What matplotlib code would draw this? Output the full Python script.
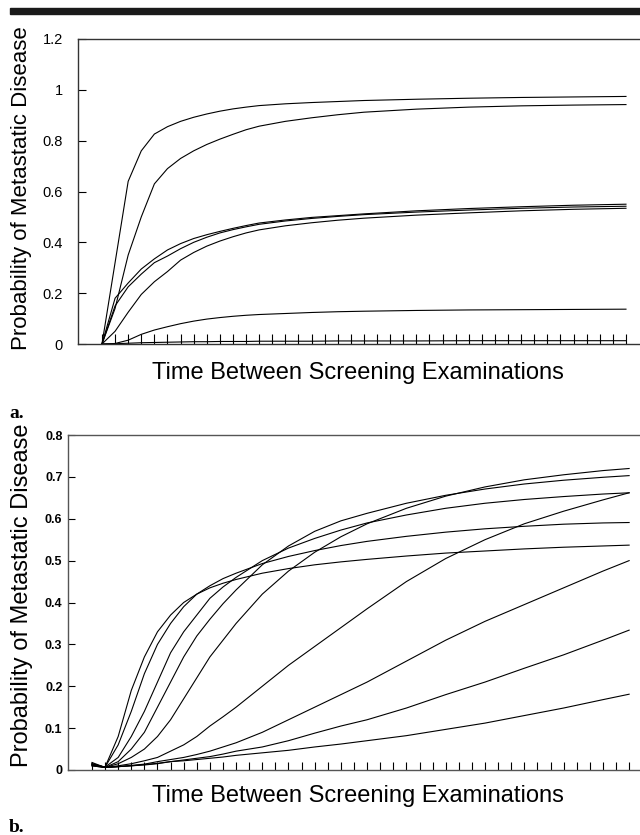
import matplotlib.pyplot as plt
from matplotlib.patches import Rectangle

# panel a: time index and probability curves
xa = [0, 1, 2, 3, 4, 5, 6, 7, 8, 9, 10, 11, 12, 14, 16, 18, 20, 24, 28, 32, 36, 40]
a1 = [0, .32, .64, .76, .826, .855, .876, .892, .905, .916, .925, .932, .938, .945, .950, .954, .958, .963, .967, .970, .972, .974]
a2 = [0, .14, .35, .50, .63, .69, .73, .76, .785, .806, .825, .843, .857, .876, .89, .902, .912, .924, .932, .937, .940, .942]
a3 = [0, .18, .24, .295, .335, .37, .395, .415, .43, .443, .455, .466, .476, .488, .498, .505, .512, .524, .533, .540, .546, .55]
a4 = [0, .15, .225, .275, .32, .346, .375, .40, .42, .437, .45, .461, .471, .484, .494, .502, .509, .519, .527, .534, .539, .542]
a5 = [0, .05, .125, .195, .245, .285, .33, .36, .385, .405, .422, .437, .449, .465, .477, .487, .495, .507, .516, .524, .530, .534]
a6 = [0, .002, .015, .038, .055, .068, .08, .09, .098, .104, .109, .113, .116, .12, .124, .127, .129, .132, .134, .135, .136, .137]
a7 = [0, .001, .003, .005, .006, .007, .008, .009, .009, .01, .01, .01, .011, .011, .011, .012, .012, .012, .013, .013, .013, .013]
curvesA = [a1, a2, a3, a4, a5, a6, a7]
yticksA = [0, 0.2, 0.4, 0.6, 0.8, 1.0, 1.2]
ylabelsA = ["0", "0.2", "0.4", "0.6", "0.8", "1", "1.2"]

# panel b
xb = [0, 1, 2, 3, 4, 5, 6, 7, 8, 9, 10, 11, 13, 15, 17, 19, 21, 24, 27, 30, 33, 36, 39, 41]
b1 = [.015, .007, .08, .19, .27, .33, .37, .40, .42, .435, .446, .455, .47, .481, .49, .497, .503, .511, .518, .523, .528, .532, .535, .537]
b2 = [.013, .007, .06, .14, .23, .30, .35, .39, .42, .44, .457, .47, .493, .51, .524, .536, .546, .558, .568, .576, .582, .587, .590, .591]
b3 = [.012, .007, .03, .08, .14, .21, .28, .33, .37, .41, .437, .46, .50, .53, .553, .573, .59, .609, .625, .637, .646, .653, .659, .662]
b4 = [.01, .006, .02, .05, .09, .15, .21, .27, .32, .36, .397, .43, .49, .535, .57, .595, .613, .637, .656, .671, .683, .692, .699, .703]
b5 = [.018, .006, .015, .03, .05, .08, .12, .17, .22, .27, .31, .35, .42, .475, .52, .557, .588, .625, .654, .676, .693, .705, .715, .72]
b6 = [.01, .006, .01, .015, .022, .03, .045, .06, .08, .105, .127, .15, .2, .25, .295, .34, .385, .45, .505, .55, .588, .618, .645, .662]
b7 = [.012, .006, .008, .011, .014, .02, .025, .03, .037, .045, .055, .065, .09, .12, .15, .18, .21, .26, .31, .355, .395, .435, .475, .50]
b8 = [.015, .006, .008, .01, .013, .016, .02, .024, .028, .032, .038, .045, .055, .07, .088, .105, .12, .148, .18, .21, .243, .275, .31, .334]
b9 = [.014, .006, .008, .01, .012, .015, .02, .022, .025, .028, .031, .035, .041, .047, .055, .062, .07, .082, .097, .112, .13, .148, .168, .181]
curvesB = [b1, b2, b3, b4, b5, b6, b7, b8, b9]
yticksB = [0, 0.1, 0.2, 0.3, 0.4, 0.5, 0.6, 0.7, 0.8]
ylabelsB = ["0", "0.1", "0.2", "0.3", "0.4", "0.5", "0.6", "0.7", "0.8"]

xlabel = "Time Between Screening Examinations"
ylabel = "Probability of Metastatic Disease"

W, H = 640, 835
plt.rcParams['font.family'] = ['Liberation Sans', 'DejaVu Sans']


def px(x0, y0, x1, y1):
    # pixel box (top-left origin) -> figure rect
    return [x0 / W, 1 - y1 / H, (x1 - x0) / W, (y1 - y0) / H]


def style(ax, spine_c="#333333"):
    ax.spines['right'].set_visible(False)
    for s in ['left', 'top', 'bottom']:
        ax.spines[s].set_color(spine_c)
        ax.spines[s].set_linewidth(1.0)


fig = plt.figure(figsize=(W / 100, H / 100), dpi=100)
fig.patches.append(Rectangle((10 / W, 1 - 14 / H), 630 / W, 6 / H,
                             transform=fig.transFigure, color="#1a1a1a"))

# ---- panel a
ax = fig.add_axes(px(78, 39, 640, 344))
for c in curvesA:
    ax.plot(xa, c, color="black", lw=0.8)
ax.set_xlim(-1.83, 41.07)
ax.set_ylim(0, 1.2)
ax.set_xticks(range(0, 41))
ax.set_xticklabels([])
ax.set_yticks(yticksA)
ax.set_yticklabels(ylabelsA, fontsize=10.5)
ax.tick_params(axis='x', direction='in', length=7, width=0.8)
ax.tick_params(axis='y', direction='in', length=6, width=0.8, pad=11)
style(ax)
fig.text(22 / W, 1 - 188 / H, ylabel, rotation=90, fontsize=16,
         ha='center', va='center')
fig.text(358 / W, 1 - 379 / H, xlabel, fontsize=17, ha='center', va='baseline')
fig.text(9 / W, 1 - 418 / H, "a.", fontsize=14, fontweight='bold',
         family='Liberation Serif', ha='left', va='baseline')

# ---- panel b
ax2 = fig.add_axes(px(68, 435, 640, 770))
for c in curvesB:
    ax2.plot(xb, c, color="black", lw=0.8)
ax2.set_xlim(-1.83, 41.83)
ax2.set_ylim(0, 0.8)
ax2.set_xticks(range(0, 42))
ax2.set_xticklabels([])
ax2.set_yticks(yticksB)
ax2.set_yticklabels(ylabelsB, fontsize=9, fontweight='bold',
                    family=['Liberation Sans Narrow', 'Liberation Sans'])
ax2.tick_params(axis='x', direction='in', length=6, width=0.8)
ax2.tick_params(axis='y', direction='in', length=5, width=0.8, pad=4)
style(ax2, "#555555")
fig.text(22 / W, 1 - 595 / H, ylabel, rotation=90, fontsize=17,
         ha='center', va='center')
fig.text(358 / W, 1 - 802 / H, xlabel, fontsize=17, ha='center', va='baseline')
fig.text(9 / W, 1 - 832 / H, "b.", fontsize=14, fontweight='bold',
         family='Liberation Serif', ha='left', va='baseline')

plt.savefig("out.png", dpi=100)
